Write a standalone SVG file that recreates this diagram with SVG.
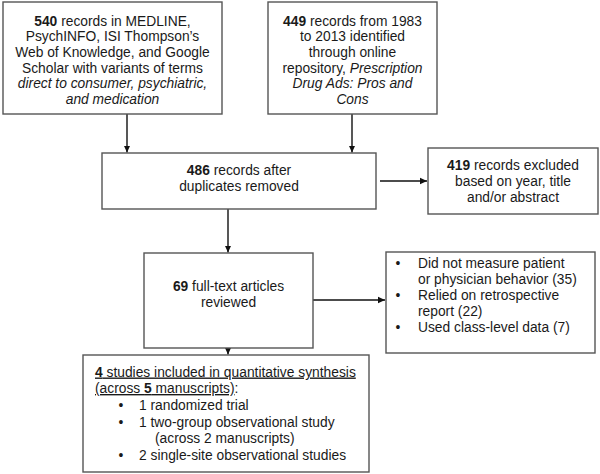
<svg xmlns="http://www.w3.org/2000/svg" width="600" height="474" viewBox="0 0 600 474">
<defs>
<marker id="ah" markerWidth="8" markerHeight="8" refX="7" refY="4" orient="auto" markerUnits="userSpaceOnUse">
<path d="M0,0.8 L7,4 L0,7.2 Z" fill="#111"/>
</marker>
<style>
.box{fill:#fff;stroke:#555;stroke-width:1.4}
text{font-family:"Liberation Sans",Arial,sans-serif;font-size:13.8px;fill:#1a1a1a}
.c{text-anchor:middle}
.b{font-weight:bold}
.i{font-style:italic}
.u{text-decoration:underline}
.con{stroke:#111;stroke-width:1.4;fill:none;marker-end:url(#ah)}
</style>
</defs>
<rect width="600" height="474" fill="#fff"/>
<g id="connectors">
<line class="con" x1="127" y1="114" x2="127" y2="152.5"/>
<line class="con" x1="352" y1="114" x2="352" y2="152.5"/>
<line class="con" x1="380" y1="181" x2="427" y2="181"/>
<line class="con" x1="228" y1="209" x2="228" y2="252.5"/>
<line class="con" x1="313" y1="300" x2="385" y2="300"/>
<line class="con" x1="228" y1="348" x2="228" y2="354.5"/>
</g>
<g id="n1">
<rect class="box" x="3" y="2" width="219" height="112"/>
<text class="c" x="112.5" y="25.5"><tspan class="b">540</tspan> records in MEDLINE,</text>
<text class="c" x="112.5" y="41.2">PsychINFO, ISI Thompson’s</text>
<text class="c" x="112.5" y="56.9">Web of Knowledge, and Google</text>
<text class="c" x="112.5" y="72.6">Scholar with variants of terms</text>
<text class="c i" x="112.5" y="88.3">direct to consumer, psychiatric,</text>
<text class="c i" x="112.5" y="104">and medication</text>
</g>
<g id="n2">
<rect class="box" x="268" y="2" width="169" height="112"/>
<text class="c" x="352.5" y="25.5"><tspan class="b">449</tspan> records from 1983</text>
<text class="c" x="352.5" y="41.2">to 2013 identified</text>
<text class="c" x="352.5" y="56.9">through online</text>
<text class="c" x="352.5" y="72.6">repository, <tspan class="i">Prescription</tspan></text>
<text class="c i" x="352.5" y="88.3">Drug Ads: Pros and</text>
<text class="c i" x="352.5" y="104">Cons</text>
</g>
<g id="n3">
<rect class="box" x="102" y="153" width="274" height="56"/>
<text class="c" x="239" y="175"><tspan class="b">486</tspan> records after</text>
<text class="c" x="239" y="190.7">duplicates removed</text>
</g>
<g id="n4">
<rect class="box" x="428" y="148" width="170" height="66"/>
<text class="c" x="513" y="170"><tspan class="b">419</tspan> records excluded</text>
<text class="c" x="513" y="186">based on year, title</text>
<text class="c" x="513" y="202">and/or abstract</text>
</g>
<g id="n5">
<rect class="box" x="144" y="253" width="169" height="95"/>
<text class="c" x="228.5" y="290.5"><tspan class="b">69</tspan> full-text articles</text>
<text class="c" x="228.5" y="306.5">reviewed</text>
</g>
<g id="n6">
<rect class="box" x="386" y="252" width="209" height="101"/>
<text class="c" x="398" y="268">•</text>
<text x="418" y="268">Did not measure patient</text>
<text x="418" y="284">or physician behavior (35)</text>
<text class="c" x="398" y="300">•</text>
<text x="418" y="300">Relied on retrospective</text>
<text x="418" y="316">report  (22)</text>
<text class="c" x="398" y="332">•</text>
<text x="418" y="332">Used class-level data (7)</text>
</g>
<g id="n7">
<rect class="box" x="83" y="355" width="286" height="117"/>
<text x="95" y="376.5" class="u"><tspan class="b">4</tspan> studies included in quantitative synthesis</text>
<text x="95" y="393"><tspan class="u">(across <tspan class="b">5</tspan> manuscripts)</tspan>:</text>
<text class="c" x="121" y="410">•</text>
<text x="139" y="410">1 randomized trial</text>
<text class="c" x="121" y="426.5">•</text>
<text x="139" y="426.5">1 two-group observational study</text>
<text x="155" y="443">(across 2 manuscripts)</text>
<text class="c" x="121" y="459.5">•</text>
<text x="139" y="459.5">2 single-site observational studies</text>
</g>
</svg>
